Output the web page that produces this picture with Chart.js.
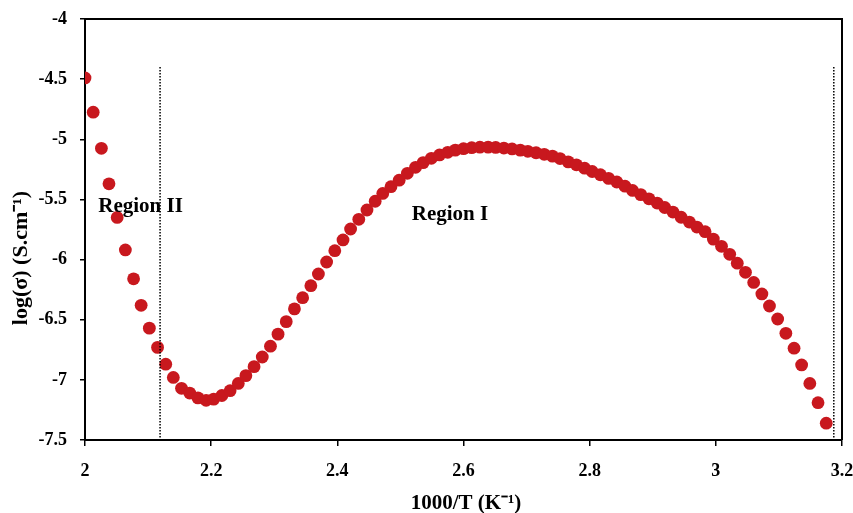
<!DOCTYPE html>
<html>
<head>
<meta charset="utf-8">
<script src="https://cdn.jsdelivr.net/npm/chart.js@4/dist/chart.umd.min.js"></script>
<style>
html,body{margin:0;padding:0;background:#fff;}
#wrap{width:853px;height:513px;position:relative;}
</style>
</head>
<body>
<div id="wrap"><canvas id="c" width="853" height="513"></canvas></div>
<script>
// ---- data ----
const xValues = [
2.000,2.013,2.026,2.038,2.051,2.064,2.077,2.089,2.102,2.115,
2.128,2.140,2.153,2.166,2.179,2.192,2.204,2.217,2.230,2.243,
2.255,2.268,2.281,2.294,2.306,2.319,2.332,2.345,2.358,2.370,
2.383,2.396,2.409,2.421,2.434,2.447,2.460,2.472,2.485,2.498,
2.511,2.524,2.536,2.549,2.562,2.575,2.587,2.600,2.613,2.626,
2.639,2.651,2.664,2.677,2.690,2.702,2.715,2.728,2.741,2.753,
2.766,2.779,2.792,2.804,2.817,2.830,2.843,2.856,2.868,2.881,
2.894,2.907,2.919,2.932,2.945,2.958,2.970,2.983,2.996,3.009,
3.022,3.034,3.047,3.060,3.073,3.085,3.098,3.111,3.124,3.136,
3.149,3.162,3.175];
const logSigma = [
-4.49,-4.775,-5.075,-5.37,-5.65,-5.92,-6.16,-6.38,-6.57,-6.73,
-6.87,-6.98,-7.07,-7.11,-7.15,-7.17,-7.16,-7.13,-7.09,-7.03,
-6.965,-6.89,-6.81,-6.72,-6.62,-6.516,-6.41,-6.317,-6.217,-6.12,
-6.02,-5.926,-5.837,-5.746,-5.665,-5.588,-5.515,-5.45,-5.394,-5.34,
-5.283,-5.233,-5.194,-5.158,-5.13,-5.108,-5.09,-5.078,-5.07,-5.066,
-5.065,-5.068,-5.073,-5.08,-5.09,-5.1,-5.112,-5.125,-5.14,-5.16,
-5.188,-5.212,-5.24,-5.268,-5.295,-5.325,-5.355,-5.39,-5.425,-5.46,
-5.495,-5.53,-5.567,-5.605,-5.648,-5.688,-5.73,-5.768,-5.83,-5.89,
-5.956,-6.03,-6.106,-6.19,-6.286,-6.386,-6.494,-6.613,-6.737,-6.876,
-7.03,-7.19,-7.36];
const boundaryLeftX = [2.119, 2.119];
const boundaryRightX = [3.187, 3.187];
const boundaryY = [-4.40, -7.5];
const xTicks = [2, 2.2, 2.4, 2.6, 2.8, 3, 3.2];
const xTickLabels = ['2','2.2','2.4','2.6','2.8','3','3.2'];
const yTicks = [-7.5, -7, -6.5, -6, -5.5, -5, -4.5, -4];
const yTickLabels = ['-7.5','-7','-6.5','-6','-5.5','-5','-4.5','-4'];
const xTitle = '1000/T (K\u207B\u00B9)';
const yTitle = 'log(\u03C3) (S.cm\u207B\u00B9)';
const regionLabels = [{text:'Region II', x:2.021, y:-5.56},{text:'Region I', x:2.518, y:-5.63}];

const FONT = '"Liberation Serif","Times New Roman",serif';
const red = 'rgb(200,24,30)';

const pts = xValues.map((x,i)=>({x:x, y:logSigma[i]}));
const mk = (xs)=>xs.map((x,i)=>({x:x, y:boundaryY[i]}));

const decor = {
  id:'decor',
  afterDatasetsDraw(chart){
    const {ctx, chartArea:a, scales:{x,y}} = chart;
    ctx.save();
    ctx.strokeStyle = '#000';
    ctx.lineWidth = 2;
    ctx.beginPath();
    ctx.moveTo(a.left, a.top); ctx.lineTo(a.right, a.top); ctx.lineTo(a.right, a.bottom);
    ctx.stroke();
    ctx.fillStyle = '#000';
    ctx.font = 'bold 21px ' + FONT;
    ctx.textAlign = 'left'; ctx.textBaseline = 'middle';
    regionLabels.forEach(r=>{
      ctx.fillText(r.text, x.getPixelForValue(r.x), y.getPixelForValue(r.y));
    });
    ctx.font = 'bold 21px ' + FONT;
    ctx.textAlign = 'center';
    ctx.fillText(xTitle, 466, 504);
    ctx.font = 'bold 22px ' + FONT;
    ctx.translate(21, 258);
    ctx.rotate(-Math.PI/2);
    ctx.fillText(yTitle, 0, 0);
    ctx.restore();
  }
};

new Chart(document.getElementById('c'), {
  type:'scatter',
  data:{datasets:[
    {data:pts, backgroundColor:red, borderColor:red, borderWidth:0, pointRadius:6.4, pointHoverRadius:6.4, order:2},
    {type:'line', data:mk(boundaryLeftX), borderColor:'#000', borderWidth:1.5, borderDash:[1.5,1.5], pointRadius:0, showLine:true, fill:false, order:1},
    {type:'line', data:mk(boundaryRightX), borderColor:'#000', borderWidth:1.5, borderDash:[1.5,1.5], pointRadius:0, showLine:true, fill:false, order:1}
  ]},
  options:{
    responsive:false,
    animation:false,
    devicePixelRatio:1,
    layout:{padding:{top:19, right:11, left:0, bottom:0}},
    plugins:{legend:{display:false}, tooltip:{enabled:false}},
    scales:{
      x:{
        type:'linear', min:2, max:3.2,
        afterBuildTicks(s){ s.ticks = xTicks.map(v=>({value:v})); },
        afterFit(s){ s.height = 73; s.paddingLeft = 0; s.paddingRight = 0; },
        ticks:{callback:(v)=>xTickLabels[xTicks.indexOf(Math.round(v*10)/10)] ?? '', color:'#000', font:{family:FONT, size:18, weight:'bold'}, padding:15, maxRotation:0, autoSkip:false},
        grid:{drawOnChartArea:false, color:'#000', tickLength:6, lineWidth:1.5},
        border:{color:'#000', width:2}
      },
      y:{
        type:'linear', min:-7.5, max:-4,
        afterBuildTicks(s){ s.ticks = yTicks.map(v=>({value:v})); },
        afterFit(s){ s.width = 85; s.paddingTop = 0; s.paddingBottom = 0; },
        ticks:{callback:(v)=>yTickLabels[yTicks.indexOf(Math.round(v*10)/10)] ?? '', color:'#000', font:{family:FONT, size:18, weight:'bold'}, padding:13, autoSkip:false},
        grid:{drawOnChartArea:false, color:'#000', tickLength:5, lineWidth:1.5},
        border:{color:'#000', width:2}
      }
    }
  },
  plugins:[decor]
});
</script>
</body>
</html>
